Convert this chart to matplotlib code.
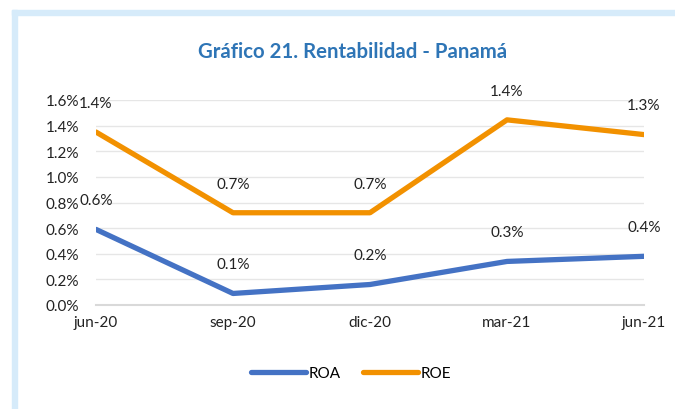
import matplotlib.pyplot as plt
from matplotlib.patches import Rectangle
from matplotlib.lines import Line2D

# data (percent)
periodos = ['jun-20', 'sep-20', 'dic-20', 'mar-21', 'jun-21']
roa = [0.59, 0.09, 0.16, 0.34, 0.38]
roe = [1.35, 0.72, 0.72, 1.445, 1.33]
roa_labels = ['0.6%', '0.1%', '0.2%', '0.3%', '0.4%']
roe_labels = ['1.4%', '0.7%', '0.7%', '1.4%', '1.3%']
yticks = [0.0, 0.2, 0.4, 0.6, 0.8, 1.0, 1.2, 1.4, 1.6]

plt.rcParams['font.family'] = ['Lato', 'DejaVu Sans']
blue = '#4472c4'
orange = '#f29100'
fs = 11

fig = plt.figure(figsize=(6.75, 4.1), dpi=100)
# light blue frame (left and top strips)
fig.patches.append(Rectangle((12/675, 0), 5/675, 1 - 11/410, transform=fig.transFigure,
                             color='#d6ebfa', zorder=0))
fig.patches.append(Rectangle((12/675, 1 - 16/410), 1 - 12/675, 5/410, transform=fig.transFigure,
                             color='#d6ebfa', zorder=0))

ax = fig.add_axes([96/675, 1 - 306/410, (644 - 96)/675, (306 - 101)/410])
x = range(len(periodos))
ax.plot(x, roa, color=blue, lw=3.8, solid_capstyle='round', solid_joinstyle='round', zorder=3)
ax.plot(x, roe, color=orange, lw=3.8, solid_capstyle='round', solid_joinstyle='round', zorder=3)

for i in x:
    ax.annotate(roa_labels[i], (i, roa[i]), xytext=(0, 21), textcoords='offset points',
                ha='center', va='center', fontsize=fs, color='#222222')
    ax.annotate(roe_labels[i], (i, roe[i]), xytext=(0, 21), textcoords='offset points',
                ha='center', va='center', fontsize=fs, color='#222222')

ax.set_xlim(0, 4)
ax.set_ylim(0, 1.6)
ax.set_yticks(yticks)
ax.set_yticklabels(['%.1f%%' % v for v in yticks])
ax.set_xticks(list(x))
ax.set_xticklabels(periodos)
ax.tick_params(axis='both', length=0, labelsize=fs, colors='#222222')
ax.tick_params(axis='y', pad=12)
ax.tick_params(axis='x', pad=7)
ax.grid(axis='y', color='#e6e6e6', lw=1)
ax.set_axisbelow(True)
for s in ['top', 'right', 'left']:
    ax.spines[s].set_visible(False)
ax.spines['bottom'].set_color('#d9d9d9')
ax.spines['bottom'].set_linewidth(1.5)

fig.text(0.523, 1 - 52/410, 'Gráfico 21. Rentabilidad - Panamá', ha='center', va='center',
         fontsize=14.7, fontweight='bold', color='#2e75b6')

handles = [Line2D([], [], color=blue, lw=3.8, solid_capstyle='round'),
           Line2D([], [], color=orange, lw=3.8, solid_capstyle='round')]
fig.legend(handles, ['ROA', 'ROE'], loc='center', bbox_to_anchor=(0.52, 1 - 374/410),
           ncol=2, frameon=False, fontsize=fs, handlelength=3.6, handletextpad=0.2,
           columnspacing=1.4)

fig.savefig('out.png', dpi=100)
